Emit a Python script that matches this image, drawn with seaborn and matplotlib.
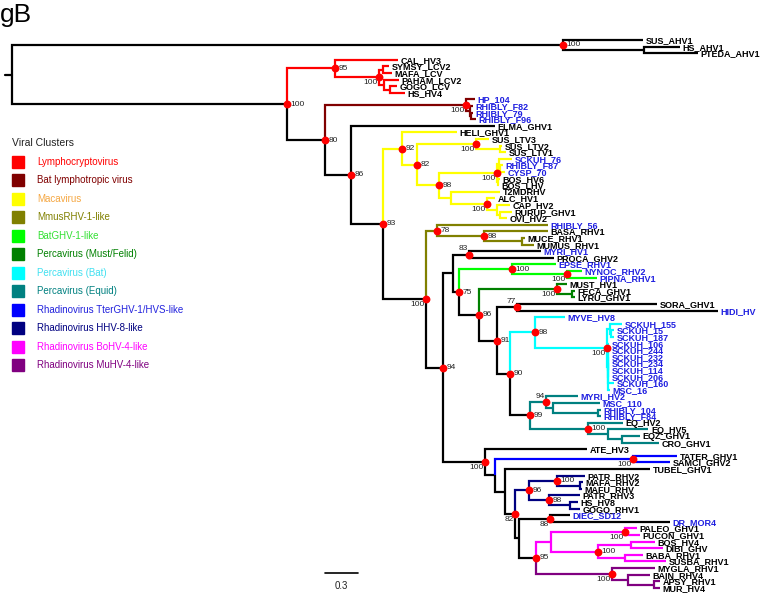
import matplotlib
matplotlib.use("Agg")
import matplotlib.pyplot as plt
import pandas as pd
import seaborn as sns

sns.set_theme(style="white")
plt.rcParams["font.family"] = ["Liberation Sans", "DejaVu Sans"]

# ---- tree data (branch lengths in substitutions/site, internal nodes named) ----
AHV_CLADE = "(SUS_AHV1:0.727,(HS_AHV1:0.327,PTEDA_AHV1:0.491)ahv_b:0.736)ahv"
LCV_CLADE = ("(CAL_HV3:0.573,((SYMSY_LCV2:0.055,MAFA_LCV:0.082)lcv_c:0.036,"
             "(PAHAM_LCV2:0.136,(GOGO_LCV:0.064,HS_HV4:0.136)lcv_e:0.055)lcv_d:0.045)lcv_b:0.4)lcv")
BLV_CLADE = "(HP_104:0.082,(RHIBLY_F82:0.027,(RHIBLY_79:0.018,RHIBLY_F96:0.045)blv_c:0.009)blv_b:0.036)blv"
MACA_CLADE = ("(HELI_GHV1:0.5,((SUS_LTV3:0.118,(SUS_LTV2:0.018,SUS_LTV1:0.055)sus_b:0.218)sus:0.536,"
              "(((SCKUH_76:0.118,(RHIBLY_F87:0.027,CYSP_70:0.045)sck_c:0.009)sck_b:0.018,"
              "(BOS_HV6:0.018,BOS_LHV:0.009)bos:0.009)sck:0.527,"
              "(T2MDRHV:0.445,(ALC_HV1:0.073,(CAP_HV2:0.118,(RURUP_GHV1:0.109,OVI_HV2:0.064)cap_c:0.027)"
              "cap:0.091)alc:0.327)t2:0.109)m98:0.2)m82:0.136)maca")
MMUS_CLADE = "(RHIBLY_56:1.009,(BASA_RHV1:0.582,(MUCE_RHV1:0.027,MUMUS_RHV1:0.109)mm_c:0.345)mm98:0.427)mm78"
BATGHV_CLADE = "(EPSE_RHV1:0.4,(NYNOC_RHV2:0.136,PIPNA_RHV1:0.273)np:0.5)bgv"
MUST_CLADE = "(MUST_HV1:0.091,(FECA_GHV1:0.027,LYRU_GHV1:0.027)fl:0.136)must"
BATPERCA_CLADE = ("(MYVE_HV8:0.273,((SCKUH_155:0.109,(SCKUH_15:0.027,SCKUH_187:0.027)s1b:0.009)s1:0.027,"
                  "(SCKUH_106:0.009,SCKUH_244:0.009,SCKUH_232:0.009,SCKUH_234:0.009,SCKUH_114:0.009,"
                  "SCKUH_206:0.009,SCKUH_160:0.055,MSC_16:0.018)s2:0.009)sk:0.655)cy98")
EQUID_A = "(MYRI_HV2:0.291,(MSC_110:0.427,(RHIBLY_104:0.027,RHIBLY_F84:0.027)rr:0.409)mm2:0.064)t94"
EQUID_B = "(EQ_HV2:0.318,(EQ_HV5:0.364,(EQZ_GHV1:0.164,CRO_GHV1:0.336)e2:0.127)e1:0.182)t100"
TTER_CLADE = "(TATER_GHV1:0.4,SAMCI_GHV2:0.336)tt"
HHV8_CLADE = ("((PATR_RHV2:0.255,(MAFA_RHV2:0.027,MAFU_RHV:0.018)mm3:0.209)p100:0.255,"
              "(PATR_RHV3:0.282,(HS_HV8:0.073,GOGO_RHV1:0.091)hg:0.191)n98:0.182)h96")
BOHV_CLADE = ("((PALEO_GHV1:0.109,PUCON_GHV1:0.136)pp:0.673,"
              "((BOS_HV4:0.218,DIBI_GHV:0.291)bd:0.3,(BABA_RHV1:0.164,SUSBA_RHV1:0.373)bs:0.245)bb:0.427)bo")
MUHV_CLADE = "(MYGLA_RHV1:0.391,(BAIN_RHV4:0.2,(APSY_RHV1:0.055,MUR_HV4:0.055)am:0.236)ba:0.145)mu"

PERCA_PART = (f"({BATGHV_CLADE}:0.482,({MUST_CLADE}:0.709,((SORA_GHV1:1.273,HIDI_HV:1.827)n77:0.182,"
              f"({BATPERCA_CLADE}:0.227,({EQUID_A}:0.145,{EQUID_B}:0.527)n99:0.182)n90:0.118)n91:0.164)"
              f"n96:0.182)n75")
RHADINO_PART = (f"(ATE_HV3:0.927,({TTER_CLADE}:1.255,(TUBEL_GHV1:1.318,({HHV8_CLADE}:0.127,"
                f"((DIEC_SD12:0.182,DR_MOR4:1.091)n88:0.282,({BOHV_CLADE}:0.136,{MUHV_CLADE}:0.691)n95:0.155)"
                f"v:0.036)n82b:0.091)w:0.091)y:0.091)n100c")
TREE = (f"({AHV_CLADE}:5.009,({LCV_CLADE}:0.436,({BLV_CLADE}:1.282,(ELMA_GHV1:1.309,"
        f"({MACA_CLADE}:0.173,({MMUS_CLADE}:0.1,(((MYRI_HV1:0.655,PROCA_GHV2:0.773)n83:0.145,"
        f"{PERCA_PART}:0.055)x:0.091,{RHADINO_PART}:0.382)n94:0.155)n100b:0.391)n93:0.291)n86:0.236)"
        f"n80:0.345)n100a:2.5)root;")

SUPPORT = {
    "ahv": 100, "n100a": 100, "lcv": 95, "lcv_b": 100, "n80": 80, "blv": 100, "n86": 86,
    "n93": 93, "maca": 92, "m82": 82, "sus": 100, "m98": 98, "sck": 100, "alc": 100,
    "n100b": 100, "mm78": 78, "mm98": 98, "n83": 83, "bgv": 100, "np": 100, "must": 100,
    "n75": 75, "n96": 96, "n77": 77, "n91": 91, "cy98": 98, "sk": 100, "n90": 90,
    "n94": 94, "t94": 94, "n99": 99, "t100": 100, "n100c": 100, "tt": 100, "h96": 96,
    "p100": 100, "n98": 98, "n82b": 82, "n88": 88, "n95": 95, "pp": 100, "bb": 100, "mu": 100,
}
LABEL_LEFT_BELOW = ["lcv_b", "blv", "sus", "sck", "alc", "n100b", "np", "must", "sk",
                    "n100c", "tt", "n82b", "n88", "pp", "mu"]
LABEL_LEFT_ABOVE = ["n83", "n77", "t94"]

CLUSTERS = ["Lymphocryptovirus", "Bat lymphotropic virus", "Macavirus", "MmusRHV-1-like",
            "BatGHV-1-like", "Percavirus (Must/Felid)", "Percavirus (Bat)", "Percavirus (Equid)",
            "Rhadinovirus TterGHV-1/HVS-like", "Rhadinovirus HHV-8-like",
            "Rhadinovirus BoHV-4-like", "Rhadinovirus MuHV-4-like"]
CLUSTER_COLOURS = ["#ff0000", "#800000", "#ffff00", "#808000", "#00ff00", "#008000",
                   "#00ffff", "#008080", "#0000ff", "#000080", "#ff00ff", "#800080"]
CLUSTER_TEXT = ["#ff0000", "#800000", "#f5a742", "#808000", "#33e033", "#008000",
                "#40e0f0", "#008080", "#2222dd", "#000080", "#ff00ff", "#800080"]
CLADE_CLUSTER = {"lcv": 0, "blv": 1, "maca": 2, "mm78": 3, "bgv": 4, "must": 5, "cy98": 6,
                 "t94": 7, "t100": 7, "tt": 8, "h96": 9, "bo": 10, "mu": 11}

BAT_LEAVES = ["HP_104", "RHIBLY_F82", "RHIBLY_79", "RHIBLY_F96", "SCKUH_76", "RHIBLY_F87",
              "CYSP_70", "RHIBLY_56", "MYRI_HV1", "EPSE_RHV1", "NYNOC_RHV2", "PIPNA_RHV1",
              "HIDI_HV", "MYVE_HV8", "SCKUH_155", "SCKUH_15", "SCKUH_187", "SCKUH_106",
              "SCKUH_244", "SCKUH_232", "SCKUH_234", "SCKUH_114", "SCKUH_206", "SCKUH_160",
              "MSC_16", "MYRI_HV2", "MSC_110", "RHIBLY_104", "RHIBLY_F84", "DIEC_SD12", "DR_MOR4"]
SCALE_LENGTH = 0.3


def parse_newick(s):
    pos = 0

    def node():
        nonlocal pos
        children = []
        if s[pos] == "(":
            pos += 1
            children.append(node())
            while s[pos] == ",":
                pos += 1
                children.append(node())
            pos += 1
        start = pos
        while s[pos] not in ",);":
            pos += 1
        name, _, length = s[start:pos].partition(":")
        return {"name": name, "length": float(length) if length else 0.0, "children": children}

    return node()


def layout(node, x0, leaves):
    node["x"] = x0 + node["length"]
    if node["children"]:
        for c in node["children"]:
            layout(c, node["x"], leaves)
        node["y"] = (node["children"][0]["y"] + node["children"][-1]["y"]) / 2
    else:
        node["y"] = len(leaves)
        leaves.append(node)


def collect(node, parent, colour, branches, internals):
    if node["name"] in CLADE_CLUSTER:
        colour = CLUSTER_COLOURS[CLADE_CLUSTER[node["name"]]]
    if parent is not None:
        branches.append((parent["x"], parent["y"], node["x"], node["y"], colour))
    if node["children"]:
        internals.append(node)
    for c in node["children"]:
        collect(c, node, colour, branches, internals)


root = parse_newick(TREE)
leaves = []
layout(root, 0.0, leaves)
branches, internals = [], []
collect(root, None, "#000000", branches, internals)

fig = plt.figure(figsize=(7.6, 5.97), dpi=100)
ax = fig.add_axes([0, 0, 1, 1])
px_unit = 110.0
ax.set_xlim(-12 / px_unit, 748 / px_unit)
ax.set_ylim((597 - 40) / 6.6, -40 / 6.6)
ax.axis("off")

# branches drawn as elbows, black first so coloured clades sit on top
for px, py, x, y, c in sorted(branches, key=lambda b: b[4] != "#000000"):
    ax.plot([px, px, x], [py, y, y], color=c, lw=1.6,
            solid_joinstyle="miter", solid_capstyle="butt", zorder=2)
ax.plot([root["x"] - 0.065, root["x"]], [root["y"], root["y"]], color="black", lw=1.6)

# support dots
sup = pd.DataFrame([{"x": n["x"], "y": n["y"], "name": n["name"], "support": SUPPORT[n["name"]]}
                    for n in internals if n["name"] in SUPPORT])
sns.scatterplot(data=sup, x="x", y="y", color="#ff0000", s=32, linewidth=0, zorder=5,
                ax=ax, legend=False)
for _, r in sup.iterrows():
    if r["name"] in LABEL_LEFT_BELOW:
        ax.text(r["x"] - 0.01, r["y"] + 0.85, str(r["support"]), ha="right", va="center",
                fontsize=6, color="#222222")
    elif r["name"] in LABEL_LEFT_ABOVE:
        ax.text(r["x"] - 0.01, r["y"] - 0.85, str(r["support"]), ha="right", va="center",
                fontsize=6, color="#222222")
    else:
        ax.text(r["x"] + 0.03, r["y"], str(r["support"]), ha="left", va="center",
                fontsize=6, color="#222222")

# tip labels
for lf in leaves:
    ax.text(lf["x"] + 0.025, lf["y"] + 0.1, lf["name"], ha="left", va="center",
            fontsize=6.5, fontweight="bold",
            color="#1f1fe0" if lf["name"] in BAT_LEAVES else "black")

# scale bar
sx, sy = (325 - 12) / px_unit, (573 - 40) / 6.6
ax.plot([sx, sx + SCALE_LENGTH], [sy, sy], color="black", lw=1.2)
ax.text(sx + SCALE_LENGTH / 2, sy + 2.0, f"{SCALE_LENGTH}", ha="center", va="center",
        fontsize=7, color="#222222")

# legend
W, H = 760.0, 597.0
fig.text(12 / W, 1 - 143 / H, "Viral Clusters", fontsize=7.5, va="center", color="#222222")
for i, (name, pc, tc) in enumerate(zip(CLUSTERS, CLUSTER_COLOURS, CLUSTER_TEXT)):
    yy = 162 + 18.45 * i
    fig.patches.append(plt.Rectangle((12 / W, 1 - (yy + 6) / H), 12 / W, 12 / H,
                                     transform=fig.transFigure, color=pc, figure=fig))
    fig.text(37 / W, 1 - yy / H, name, fontsize=7, va="center", color=tc)

fig.text(0.0, 1 - 22 / H, "gB", fontsize=19, va="baseline", ha="left", color="black")

fig.savefig("out.png", dpi=100)
